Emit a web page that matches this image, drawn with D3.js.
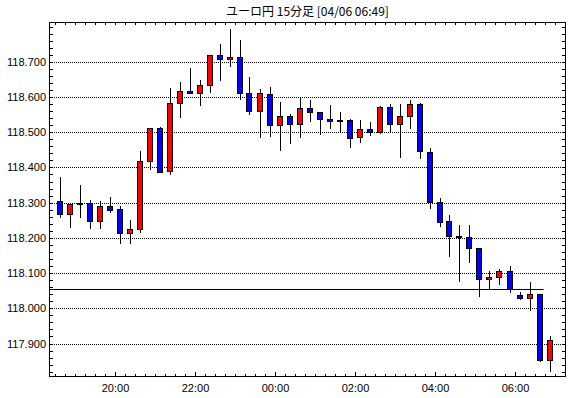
<!DOCTYPE html>
<html>
<head>
<meta charset="utf-8">
<script src="https://cdn.jsdelivr.net/npm/d3@7"></script>
<style>
    body { margin: 0; background: #fff; }
    #chart { width: 570px; height: 398px; }
    .axis-label { font-family: "Liberation Sans", Arial, sans-serif; font-size: 11px; fill: #000; }
</style>
</head>
<body>
<div id="chart"></div>
<script>
// 15-minute candles, 04/05 18:30 -> 04/06 06:45
const times = ["18:30","18:45","19:00","19:15","19:30","19:45","20:00","20:15","20:30","20:45",
    "21:00","21:15","21:30","21:45","22:00","22:15","22:30","22:45","23:00","23:15",
    "23:30","23:45","00:00","00:15","00:30","00:45","01:00","01:15","01:30","01:45",
    "02:00","02:15","02:30","02:45","03:00","03:15","03:30","03:45","04:00","04:15",
    "04:30","04:45","05:00","05:15","05:30","05:45","06:00","06:15","06:30","06:45"];

const opens = [118.306,118.268,118.298,118.298,118.248,118.290,118.281,118.214,118.224,118.417,
    118.511,118.389,118.582,118.617,118.611,118.634,118.719,118.708,118.713,118.611,
    118.560,118.608,118.520,118.545,118.523,118.568,118.557,118.537,118.535,118.534,
    118.486,118.509,118.500,118.571,118.523,118.545,118.580,118.445,118.302,118.249,
    118.206,118.203,118.170,118.084,118.090,118.105,118.039,118.030,118.042,117.854];

const highs = [118.373,118.297,118.351,118.307,118.304,118.316,118.290,118.250,118.447,118.511,
    118.514,118.625,118.643,118.682,118.649,118.719,118.751,118.794,118.763,118.656,
    118.622,118.628,118.585,118.552,118.598,118.592,118.557,118.577,118.557,118.537,
    118.534,118.528,118.574,118.580,118.580,118.592,118.582,118.454,118.312,118.264,
    118.236,118.236,118.170,118.105,118.111,118.119,118.047,118.074,118.042,117.920];

const lows = [118.260,118.231,118.260,118.228,118.228,118.274,118.186,118.186,118.216,118.395,
    118.386,118.382,118.544,118.611,118.576,118.614,118.647,118.689,118.594,118.553,
    118.486,118.490,118.450,118.470,118.487,118.533,118.496,118.513,118.504,118.459,
    118.471,118.491,118.497,118.500,118.430,118.511,118.428,118.286,118.234,118.149,
    118.079,118.131,118.035,118.054,118.070,118.046,118.026,117.996,117.850,117.821];

const closes = [118.268,118.295,118.296,118.248,118.290,118.279,118.214,118.224,118.417,118.511,
    118.386,118.582,118.617,118.611,118.634,118.719,118.708,118.713,118.611,118.560,
    118.611,118.520,118.545,118.523,118.568,118.557,118.537,118.533,118.534,118.484,
    118.509,118.500,118.571,118.523,118.545,118.580,118.446,118.302,118.245,118.206,
    118.203,118.170,118.084,118.090,118.105,118.056,118.030,118.042,117.854,117.909];

// solid reference line
const refValue = 118.056;
const refEnd = "06:43";

const yTicks = [117.9, 118.0, 118.1, 118.2, 118.3, 118.4, 118.5, 118.6, 118.7];
const xTickLabels = ["20:00", "22:00", "00:00", "02:00", "04:00", "06:00"];

const title = "ユーロ円 15分足 [04/06 06:49]";

const width = 570, height = 398;
const plot = { left: 50, right: 565, top: 22, bottom: 377 };

// clock string -> Date (evening hours belong to 04/05)
function toDate(s) {
    const [h, m] = s.split(":").map(Number);
    const day = h >= 12 ? 5 : 6;
    return new Date(2024, 3, day, h, m);
}

const data = times.map((t, i) => ({
    time: new Date(toDate(t).getTime() + 7.5 * 60000), // centre of the 15 min bar
    open: opens[i], high: highs[i], low: lows[i], close: closes[i]
}));

const x = d3.scaleTime()
    .domain([new Date(2024, 3, 5, 18, 22, 30), new Date(2024, 3, 6, 7, 15)])
    .range([plot.left, plot.right]);

const y = d3.scaleLinear()
    .domain([117.805, 118.813])
    .range([plot.bottom, plot.top]);

const svg = d3.select("#chart")
    .append("svg")
    .attr("width", width)
    .attr("height", height)
    .style("display", "block");

const crisp = v => Math.round(v) + 0.5;

// title
svg.append("text")
    .attr("x", (plot.left + plot.right) / 2)
    .attr("y", 16)
    .attr("text-anchor", "middle")
    .style("font-family", "'Noto Sans CJK JP', sans-serif")
    .style("font-size", "12px")
    .text(title);

// dotted grid
svg.selectAll("line.grid")
    .data(yTicks)
    .enter()
    .append("line")
    .attr("class", "grid")
    .attr("x1", plot.left)
    .attr("x2", plot.right)
    .attr("y1", d => crisp(y(d)))
    .attr("y2", d => crisp(y(d)))
    .style("stroke", "#000")
    .style("stroke-width", 1)
    .style("stroke-dasharray", "1,1");

// y labels
svg.selectAll("text.ylab")
    .data(yTicks)
    .enter()
    .append("text")
    .attr("class", "axis-label")
    .attr("x", 46)
    .attr("y", d => y(d))
    .attr("dy", "0.36em")
    .attr("text-anchor", "end")
    .text(d => d3.format(".3f")(d));

// minor ticks every 0.02 on left and right borders
const yMinor = d3.range(117.82, 118.811, 0.02);
svg.selectAll("line.ytick")
    .data(yMinor)
    .enter()
    .append("line")
    .attr("x1", plot.left)
    .attr("x2", plot.left + 3)
    .attr("y1", d => crisp(y(d)))
    .attr("y2", d => crisp(y(d)))
    .style("stroke", "#000");
svg.selectAll("line.ytickR")
    .data(yMinor)
    .enter()
    .append("line")
    .attr("x1", plot.right - 3)
    .attr("x2", plot.right)
    .attr("y1", d => crisp(y(d)))
    .attr("y2", d => crisp(y(d)))
    .style("stroke", "#000");

// x ticks every 15 minutes, top and bottom
const xMinor = d3.timeMinute.every(15).range(x.domain()[0], x.domain()[1]);
const isMajor = d => d.getMinutes() === 0 && d.getHours() % 2 === 0;
svg.selectAll("line.xtick")
    .data(xMinor)
    .enter()
    .append("line")
    .attr("x1", d => crisp(x(d)))
    .attr("x2", d => crisp(x(d)))
    .attr("y1", plot.bottom)
    .attr("y2", d => plot.bottom - (isMajor(d) ? 5 : 3))
    .style("stroke", "#000");
svg.selectAll("line.xtickT")
    .data(xMinor)
    .enter()
    .append("line")
    .attr("x1", d => crisp(x(d)))
    .attr("x2", d => crisp(x(d)))
    .attr("y1", plot.top)
    .attr("y2", plot.top + 3)
    .style("stroke", "#000");

// x labels
svg.selectAll("text.xlab")
    .data(xTickLabels)
    .enter()
    .append("text")
    .attr("class", "axis-label")
    .attr("x", d => crisp(x(toDate(d))))
    .attr("y", 392)
    .attr("text-anchor", "middle")
    .text(d => d);

// reference line
svg.append("line")
    .attr("x1", plot.left)
    .attr("x2", x(toDate(refEnd)))
    .attr("y1", crisp(y(refValue)))
    .attr("y2", crisp(y(refValue)))
    .style("stroke", "#000")
    .style("stroke-width", 1);

// candles
const candles = svg.selectAll("g.candle")
    .data(data)
    .enter()
    .append("g")
    .attr("class", "candle")
    .attr("transform", d => `translate(${Math.floor(x(d.time))},0)`);

candles.append("line")
    .attr("x1", 0.5)
    .attr("x2", 0.5)
    .attr("y1", d => Math.round(y(d.high)))
    .attr("y2", d => Math.round(y(d.low)) + 1)
    .style("stroke", "#000");

candles.append("rect")
    .attr("x", -2.5)
    .attr("width", 5)
    .attr("y", d => Math.round(y(Math.max(d.open, d.close))) + 0.5)
    .attr("height", d => Math.max(1, Math.round(y(Math.min(d.open, d.close))) - Math.round(y(Math.max(d.open, d.close)))))
    .attr("fill", d => d.close > d.open ? "#ff0000" : "#0000ff")
    .style("stroke", "#000")
    .style("stroke-width", 1);

// frame
svg.append("rect")
    .attr("x", plot.left - 0.5)
    .attr("y", plot.top + 0.5)
    .attr("width", plot.right - plot.left + 1)
    .attr("height", plot.bottom - plot.top - 1)
    .attr("fill", "none")
    .style("stroke", "#000");
</script>
</body>
</html>
